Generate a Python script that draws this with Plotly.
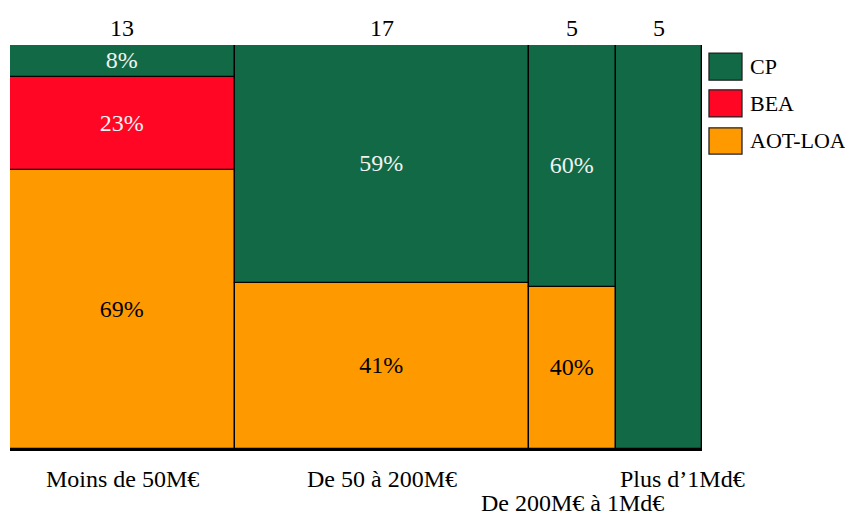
import plotly.graph_objects as go

# Market segments (column widths = number of operations)
segments = ["Moins de 50M€", "De 50 à 200M€", "De 200M€ à 1Md€", "Plus d'1Md€"]
counts = [13, 17, 5, 5]

# Share of each contract type per segment (%)
aot_loa = [69, 41, 40, 0]
bea = [23, 0, 0, 0]
cp = [8, 59, 60, 100]

colors = {"CP": "#116a45", "BEA": "#ff0625", "AOT-LOA": "#ff9900"}
FONT = "Liberation Serif"

starts = []
acc = 0
for c in counts:
    starts.append(acc)
    acc += c
centers = [s + c / 2 for s, c in zip(starts, counts)]
total = acc

fig = go.Figure()

def add_layer(name, values, base, text_color, show_text):
    fig.add_trace(go.Bar(
        name=name,
        x=starts,
        y=values,
        base=base,
        width=counts,
        offset=0,
        marker=dict(color=colors[name], line=dict(color="black", width=1.3)),
        text=[f"{v}%" if (v > 0 and s) else "" for v, s in zip(values, show_text)],
        textposition="inside",
        insidetextanchor="middle",
        textangle=0,
        textfont=dict(family=FONT, size=24, color=text_color),
        showlegend=False,
        hoverinfo="skip",
    ))

base_bea = aot_loa
base_cp = [a + b for a, b in zip(aot_loa, bea)]
add_layer("AOT-LOA", aot_loa, [0] * 4, "black", [True] * 4)
add_layer("BEA", bea, base_bea, "#f2f2f2", [True] * 4)
add_layer("CP", cp, base_cp, "#f2f2f2", [True, True, True, False])

# Column totals above the bars
for cx, c in zip(centers, counts):
    fig.add_annotation(x=cx, y=100, xref="x", yref="y", text=str(c),
                       showarrow=False, yanchor="middle", yshift=17,
                       font=dict(family=FONT, size=24, color="black"))

# Segment labels below the axis (staggered)
label_shift = [(0, 0), (0, 0), (0, -24), (24, 0)]
for cx, lab, (dx, dy) in zip(centers, segments, label_shift):
    fig.add_annotation(x=cx, y=0, xref="x", yref="y", text=lab.replace("'", "’"),
                       showarrow=False, yanchor="middle", yshift=-30 + dy, xshift=dx,
                       borderpad=0,
                       font=dict(family=FONT, size=24, color="black"))

# Legend drawn as swatches + labels
legend_items = [("CP", 0.980, 0.913), ("BEA", 0.889, 0.822), ("AOT-LOA", 0.795, 0.730)]
for name, y1, y0 in legend_items:
    fig.add_shape(type="rect", xref="paper", yref="paper",
                  x0=1.0101, x1=1.0578, y0=y0, y1=y1,
                  fillcolor=colors[name], line=dict(color="#222", width=1.3))
    fig.add_annotation(xref="paper", yref="paper", x=1.066, y=(y0 + y1) / 2,
                       text=name, showarrow=False, xanchor="left", yanchor="middle",
                       font=dict(family=FONT, size=22, color="black"))

fig.update_layout(
    width=845, height=515,
    margin=dict(l=10, r=143, t=45, b=66),
    plot_bgcolor="white", paper_bgcolor="white",
    barmode="overlay", bargap=0,
    showlegend=False,
)
fig.update_xaxes(range=[0, total], showgrid=False, zeroline=False,
                 showticklabels=False, ticks="",
                 showline=True, linecolor="black", linewidth=2)
fig.update_yaxes(range=[0, 100], showgrid=False, zeroline=False,
                 showticklabels=False, ticks="", showline=False)

fig.write_html("out.html")
